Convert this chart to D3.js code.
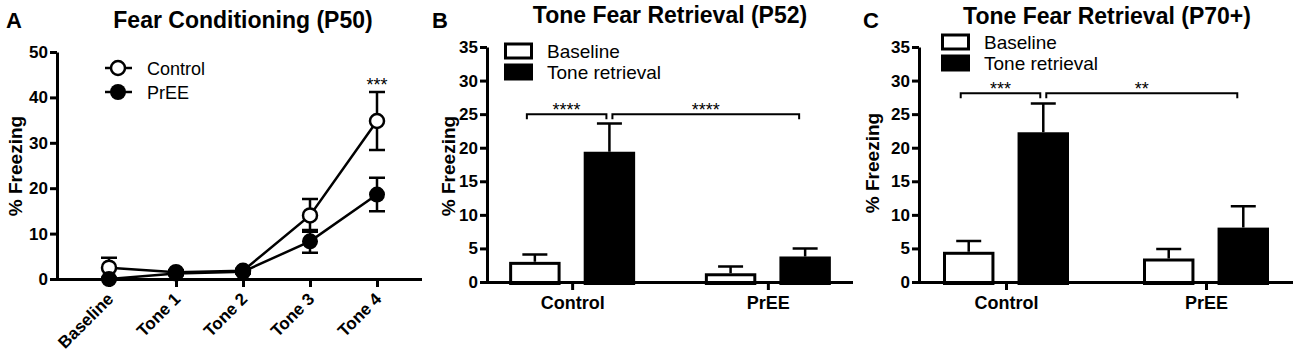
<!DOCTYPE html>
<html>
<head>
<meta charset="utf-8">
<script src="https://cdn.jsdelivr.net/npm/d3@7"></script>
<style>
  body { margin: 0; background: #fff; }
  svg { font-family: "Liberation Sans", Arial, sans-serif; }
  .axis path, .axis line { stroke: #000; stroke-width: 3; }
  .axis text { font-weight: bold; fill: #000; }
</style>
</head>
<body>
<svg width="1300" height="355"></svg>
<script>
// panel A - fear conditioning (P50)
const tones = ["Baseline", "Tone 1", "Tone 2", "Tone 3", "Tone 4"];
const controlMean = [2.5, 1.5, 1.8, 14.0, 34.8];
const controlSem = [2.2, 0.4, 0.4, 3.6, 6.4];
const preeMean = [0.0, 1.2, 1.6, 8.3, 18.6];
const preeSem = [0.2, 0.4, 0.4, 2.5, 3.7];
const yTicksA = [0, 10, 20, 30, 40, 50];

// panels B and C - tone fear retrieval
const groups = ["Control", "PrEE"];
const conditions = ["Baseline", "Tone retrieval"];
const p52Baseline = [3.0, 1.3];
const p52BaselineSem = [1.1, 1.0];
const p52Tone = [19.4, 3.8];
const p52ToneSem = [4.2, 1.2];
const p70Baseline = [4.5, 3.5];
const p70BaselineSem = [1.6, 1.4];
const p70Tone = [22.3, 8.1];
const p70ToneSem = [4.3, 3.2];
const yTicksBar = [0, 5, 10, 15, 20, 25, 30, 35];

const svg = d3.select('svg')

// ---------- panel A ----------
const xA = d3.scalePoint().domain(tones).range([109, 377])
const yA = d3.scaleLinear().domain([0, 50]).range([279, 52])

const yAxisA = svg.append('g').attr('class', 'axis')
    .attr('transform', 'translate(57,0)')
    .call(d3.axisLeft(yA).tickValues(yTicksA).tickSize(7).tickSizeOuter(0).tickPadding(2))
yAxisA.selectAll('text').style('font-size', '17px')

const xAxisA = svg.append('g').attr('class', 'axis')
    .attr('transform', `translate(0,${yA(0)})`)
    .call(d3.axisBottom(xA).tickSize(8).tickSizeOuter(0))
xAxisA.select('.domain').attr('d', 'M55.5,0.5H422')
xAxisA.selectAll('text')
    .style('font-size', '17px')
    .attr('text-anchor', 'end')
    .attr('y', 0).attr('dx', 0).attr('dy', 0)
    .attr('transform', 'translate(5,21) rotate(-45)')

function errBars(g, means, sems, cap) {
    g.selectAll('.eb').data(tones).enter().append('path')
        .attr('fill', 'none').attr('stroke', '#000').attr('stroke-width', 2.5)
        .attr('d', (t, i) => {
            const x = xA(t), lo = yA(Math.max(0, means[i] - sems[i])), hi = yA(means[i] + sems[i])
            return `M${x - cap},${hi}H${x + cap}M${x},${hi}V${lo}M${x - cap},${lo}H${x + cap}`
        })
}
const gA = svg.append('g')
errBars(gA, controlMean, controlSem, 8)
errBars(gA, preeMean, preeSem, 8)

const line = d3.line().x((d, i) => xA(tones[i])).y(d => yA(d))
gA.append('path').datum(controlMean).attr('d', line)
    .attr('fill', 'none').attr('stroke', '#000').attr('stroke-width', 2.5)
gA.append('path').datum(preeMean).attr('d', line)
    .attr('fill', 'none').attr('stroke', '#000').attr('stroke-width', 2.5)

gA.selectAll('.pc').data(controlMean).enter().append('circle')
    .attr('cx', (d, i) => xA(tones[i])).attr('cy', d => yA(d)).attr('r', 7)
    .attr('fill', '#fff').attr('stroke', '#000').attr('stroke-width', 2.5)
gA.selectAll('.pp').data(preeMean).enter().append('circle')
    .attr('cx', (d, i) => xA(tones[i])).attr('cy', d => yA(d)).attr('r', 8)
    .attr('fill', '#000')

// legend A
const legA = [{name: 'Control', fill: '#fff', y: 68}, {name: 'PrEE', fill: '#000', y: 92}]
legA.forEach(l => {
    svg.append('line').attr('x1', 105).attr('x2', 132).attr('y1', l.y).attr('y2', l.y)
        .attr('stroke', '#000').attr('stroke-width', 2.5)
    svg.append('circle').attr('cx', 118).attr('cy', l.y).attr('r', l.fill == '#000' ? 8 : 7)
        .attr('fill', l.fill).attr('stroke', '#000').attr('stroke-width', l.fill == '#000' ? 0 : 2.5)
    svg.append('text').attr('x', 147).attr('y', l.y + 6.5).text(l.name)
        .attr('font-size', 18)
})
svg.append('text').attr('x', xA('Tone 4')).attr('y', 91).attr('text-anchor', 'middle')
    .attr('font-size', 18).text('***')

// ---------- bar panels ----------
function barPanel(opt) {
    const x0 = d3.scalePoint().domain(groups).range([opt.left, opt.right]).padding(0.435)
    const x1 = d3.scaleBand().domain(conditions).range([-63, 63]).paddingInner(0.31)
    const y = d3.scaleLinear().domain([0, 35]).range([282, 47])

    const rows = []
    groups.forEach((g, i) => {
        rows.push({g: g, c: conditions[0], v: opt.base[i], e: opt.baseSem[i]})
        rows.push({g: g, c: conditions[1], v: opt.tone[i], e: opt.toneSem[i]})
    })

    const g = svg.append('g')
    // error bars (upward only)
    g.selectAll('.err').data(rows).enter().append('path')
        .attr('fill', 'none').attr('stroke', '#000').attr('stroke-width', 2.5)
        .attr('d', d => {
            const cx = x0(d.g) + x1(d.c) + x1.bandwidth() / 2
            return `M${cx},${y(d.v)}V${y(d.v + d.e)}M${cx - 12.5},${y(d.v + d.e)}H${cx + 12.5}`
        })
    g.selectAll('.bar').data(rows).enter().append('rect')
        .attr('x', d => x0(d.g) + x1(d.c) + 1.5)
        .attr('width', x1.bandwidth() - 3)
        .attr('y', d => y(d.v) + 1.5)
        .attr('height', d => y(0) - y(d.v))
        .attr('fill', d => d.c == 'Baseline' ? '#fff' : '#000')
        .attr('stroke', '#000').attr('stroke-width', 3)

    const ya = svg.append('g').attr('class', 'axis')
        .attr('transform', `translate(${opt.left},0)`)
        .call(d3.axisLeft(y).tickValues(yTicksBar).tickSize(7).tickSizeOuter(0).tickPadding(2))
    ya.selectAll('text').style('font-size', '17px')
    const xa = svg.append('g').attr('class', 'axis')
        .attr('transform', `translate(0,${y(0)})`)
        .call(d3.axisBottom(x0).tickSize(8).tickSizeOuter(0).tickPadding(6))
    xa.select('.domain').attr('d', `M${opt.left - 1.5},0.5H${opt.right}`)
    xa.selectAll('text').style('font-size', '18px')

    // significance brackets
    const cx = (grp, c) => x0(grp) + x1(c) + x1.bandwidth() / 2
    const by = y(opt.bracket)
    const br = [
        {x1: cx('Control', 'Baseline') - 8, x2: cx('Control', 'Tone retrieval') - 3, s: opt.stars[0]},
        {x1: cx('Control', 'Tone retrieval') + 3, x2: cx('PrEE', 'Tone retrieval') - 6, s: opt.stars[1]}
    ]
    br.forEach(b => {
        g.append('path').attr('fill', 'none').attr('stroke', '#000').attr('stroke-width', 2)
            .attr('d', `M${b.x1},${by + 5}V${by}H${b.x2}V${by + 5}`)
        g.append('text').attr('x', (b.x1 + b.x2) / 2).attr('y', by + 2)
            .attr('text-anchor', 'middle').attr('font-size', 18).text(b.s)
    })

    // legend
    conditions.forEach((c, i) => {
        const ly = opt.legY + i * 21
        svg.append('rect').attr('x', opt.legX + 1.5).attr('y', ly - 7).attr('width', 26).attr('height', 14)
            .attr('fill', i == 0 ? '#fff' : '#000').attr('stroke', '#000').attr('stroke-width', 3)
        svg.append('text').attr('x', opt.legX + 43).attr('y', ly + 7).attr('font-size', 19).text(c)
    })
}

barPanel({left: 487, right: 853, base: p52Baseline, baseSem: p52BaselineSem,
    tone: p52Tone, toneSem: p52ToneSem, bracket: 25, stars: ['****', '****'], legX: 504, legY: 51})
barPanel({left: 919, right: 1293, base: p70Baseline, baseSem: p70BaselineSem,
    tone: p70Tone, toneSem: p70ToneSem, bracket: 28.1, stars: ['***', '**'], legX: 941, legY: 42})

// titles, panel letters, y labels
const titles = [
    {t: 'Fear Conditioning (P50)', x: 243, y: 28},
    {t: 'Tone Fear Retrieval (P52)', x: 670, y: 23},
    {t: 'Tone Fear Retrieval (P70+)', x: 1107, y: 24}
]
titles.forEach(d => svg.append('text').attr('x', d.x).attr('y', d.y).attr('text-anchor', 'middle')
    .attr('font-size', 23).attr('font-weight', 'bold').text(d.t))

const letters = [{t: 'A', x: 6}, {t: 'B', x: 432}, {t: 'C', x: 863}]
letters.forEach(d => svg.append('text').attr('x', d.x).attr('y', 28)
    .attr('font-size', 22).attr('font-weight', 'bold').text(d.t))

const ylabels = [{x: 22, y: 166}, {x: 455, y: 166}, {x: 879, y: 163}]
ylabels.forEach(d => svg.append('text')
    .attr('transform', `translate(${d.x},${d.y}) rotate(-90)`)
    .attr('text-anchor', 'middle').attr('font-size', 19).attr('font-weight', 'bold')
    .text('% Freezing'))
</script>
</body>
</html>
